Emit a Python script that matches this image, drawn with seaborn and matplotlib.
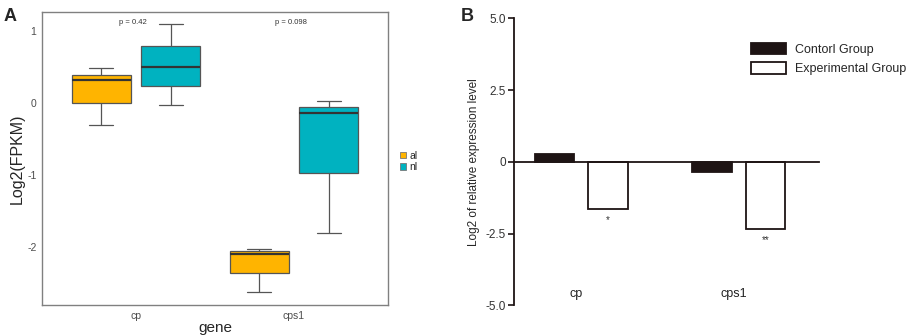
import numpy as np
import pandas as pd
import matplotlib
matplotlib.use("Agg")
import matplotlib.pyplot as plt
import seaborn as sns
from matplotlib.patches import Patch

# panel A: five-number summaries (min, q1, median, q3, max)
genes = ["cp", "cps1"]
groups = ["al", "nl"]
al_cp = [-0.31, 0.00, 0.31, 0.39, 0.48]
nl_cp = [-0.03, 0.24, 0.50, 0.79, 1.09]
al_cps1 = [-2.63, -2.37, -2.10, -2.06, -2.03]
nl_cps1 = [-1.81, -0.97, -0.14, -0.06, 0.02]
p_labels = ["p = 0.42", "p = 0.098"]

# panel B: relative expression
bar_genes = ["cp", "cps1"]
control = [0.28, -0.36]
experimental = [-1.64, -2.34]
stars = ["*", "**"]

box_colors = {"al": "#FFB400", "nl": "#00B2C0"}
bar_colors = {"Contorl Group": "#1e1414", "Experimental Group": "white"}

sns.set_style("white")
plt.rcParams["font.family"] = ["Liberation Sans", "DejaVu Sans"]

rows = []
for g, vals in [("cp", al_cp), ("cps1", al_cps1)]:
    rows += [(g, "al", v) for v in vals]
for g, vals in [("cp", nl_cp), ("cps1", nl_cps1)]:
    rows += [(g, "nl", v) for v in vals]
df_a = pd.DataFrame(rows, columns=["gene", "group", "value"])

fig = plt.figure(figsize=(9.13, 3.36), dpi=100)
ax1 = fig.add_axes([0.046, 0.092, 0.379, 0.872])
ax2 = fig.add_axes([0.563, 0.0914, 0.334, 0.8541])

# ---- panel A
sns.boxplot(data=df_a, x="gene", y="value", hue="group", order=genes, hue_order=groups,
            palette=box_colors, saturation=1, width=0.88, gap=0.15, whis=(0, 100),
            showfliers=False, linecolor="#555555", linewidth=0.9,
            medianprops=dict(color="#333333", linewidth=1.6),
            capwidths=0.15, legend=False, ax=ax1)
ax1.set_xlim(-0.595, 1.595)
ax1.set_ylim(-2.81, 1.26)
ax1.set_yticks([-2, -1, 0, 1])
ax1.set_yticklabels(["-2", "-1", "0", "1"])
for s in ax1.spines.values():
    s.set_color("#808080")
    s.set_linewidth(1.0)
ax1.tick_params(axis="both", length=2, width=0.8, color="#555555",
                labelsize=7.5, labelcolor="#4d4d4d", pad=2)
ax1.set_xlabel("gene", fontsize=11, labelpad=0)
ax1.set_ylabel("Log2(FPKM)", fontsize=11.5, labelpad=2)
for i, p in enumerate(p_labels):
    ax1.text(i - 0.02, 1.12, p, ha="center", va="center", fontsize=5.5, color="#333333")
handles = [Patch(facecolor=box_colors[g], edgecolor="#777777", linewidth=0.6, label=g) for g in groups]
ax1.legend(handles=handles, loc="center left", bbox_to_anchor=(1.035, 0.49), frameon=False,
           fontsize=7.5, handlelength=0.6, handleheight=0.6, handletextpad=0.3,
           labelspacing=0.15, borderpad=0, borderaxespad=0)

# ---- panel B
df_b = pd.DataFrame({
    "gene": bar_genes * 2,
    "group": ["Contorl Group"] * 2 + ["Experimental Group"] * 2,
    "value": control + experimental,
})
sns.barplot(data=df_b, x="gene", y="value", hue="group", palette=bar_colors, saturation=1,
            width=0.68, gap=0.26, edgecolor="#1e1414", linewidth=1.3, ax=ax2)
ax2.set_xlim(-0.427, 1.51)
ax2.set_ylim(-5, 5)
ax2.set_yticks([-5, -2.5, 0, 2.5, 5])
ax2.set_yticklabels(["-5.0", "-2.5", "0", "2.5", "5.0"])
ax2.spines["top"].set_visible(False)
ax2.spines["right"].set_visible(False)
ax2.spines["bottom"].set_position(("data", 0))
for s in ["left", "bottom"]:
    ax2.spines[s].set_color("#1e1414")
    ax2.spines[s].set_linewidth(1.3)
ax2.set_xticks([])
ax2.set_xlabel("")
ax2.tick_params(axis="y", length=4, width=1.2, color="#1e1414", labelsize=8.5,
                labelcolor="#333333", pad=2, left=True)
ax2.set_ylabel("Log2 of relative expression level", fontsize=8.5, labelpad=4)
for i, g in enumerate(bar_genes):
    ax2.text(i - 0.03, -4.6, g, ha="center", va="center", fontsize=9, color="#222222")
for i, (v, s) in enumerate(zip(experimental, stars)):
    ax2.text(i + 0.17, v - 0.2, s, ha="center", va="top", fontsize=7, color="#333333")
ax2.legend(loc="upper left", bbox_to_anchor=(0.777, 0.915), frameon=False, fontsize=9,
           handlelength=2.8, handleheight=1.0, handletextpad=0.7, labelspacing=0.55,
           borderpad=0, borderaxespad=0, title=None)

fig.text(0.004, 0.975, "A", fontsize=13, fontweight="bold", va="top")
fig.text(0.505, 0.975, "B", fontsize=13, fontweight="bold", va="top")

fig.savefig("out.png", dpi=100)
